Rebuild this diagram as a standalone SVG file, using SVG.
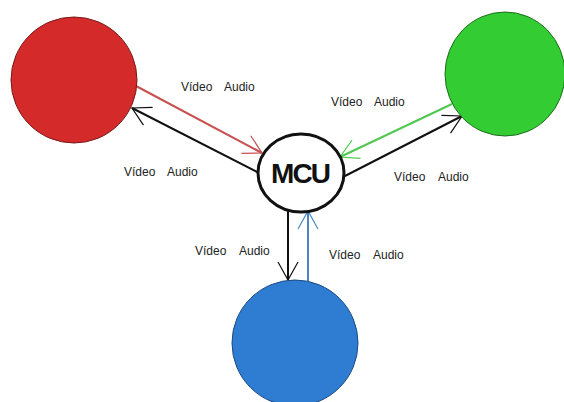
<svg xmlns="http://www.w3.org/2000/svg" width="564" height="402" viewBox="0 0 564 402">
<style>
.lbl{font-family:"Liberation Sans",Arial,sans-serif;font-size:12px;fill:#222}
.mcu{font-family:"Liberation Sans",Arial,sans-serif;font-size:28px;font-weight:bold;fill:#111}
.ln{fill:none;stroke-width:2}
.ah{fill:none;stroke-width:1.2}
</style>
<defs>
<marker id="mk" markerUnits="userSpaceOnUse" markerWidth="40" markerHeight="40" refX="0" refY="0" orient="auto" overflow="visible"><path class="ah" d="M-18,-10 L0,0 L-18,10" stroke="#111"/></marker>
<marker id="mr" markerUnits="userSpaceOnUse" markerWidth="40" markerHeight="40" refX="0" refY="0" orient="auto" overflow="visible"><path class="ah" d="M-18,-10 L0,0 L-18,10" stroke="#c85050"/></marker>
<marker id="mg" markerUnits="userSpaceOnUse" markerWidth="40" markerHeight="40" refX="0" refY="0" orient="auto" overflow="visible"><path class="ah" d="M-18,-10 L0,0 L-18,10" stroke="#50c850"/></marker>
<marker id="mb" markerUnits="userSpaceOnUse" markerWidth="40" markerHeight="40" refX="0" refY="0" orient="auto" overflow="visible"><path class="ah" d="M-18,-10 L0,0 L-18,10" stroke="#4a86c0"/></marker>
</defs>
<rect width="564" height="402" fill="#fff"/>
<g id="connectors">
<line class="ln" x1="136" y1="86" x2="262" y2="153" stroke="#c85050" marker-end="url(#mr)"/>
<line class="ln" x1="259" y1="173" x2="132" y2="108" stroke="#111" marker-end="url(#mk)"/>
<line class="ln" x1="452" y1="104" x2="340" y2="157" stroke="#50c850" marker-end="url(#mg)"/>
<line class="ln" x1="343" y1="177" x2="462" y2="116" stroke="#111" marker-end="url(#mk)"/>
<line class="ln" x1="288" y1="211" x2="288" y2="280" stroke="#111" marker-end="url(#mk)"/>
<line class="ln" x1="308" y1="281" x2="308" y2="211" stroke="#4a86c0" marker-end="url(#mb)"/>
</g>
<g id="red"><ellipse cx="74" cy="80" rx="63" ry="63" fill="#d42a2a" stroke="#7a1a1a" stroke-width="1"/></g>
<g id="green"><ellipse cx="505" cy="74" rx="60" ry="62" fill="#33cc33" stroke="#1d6e1d" stroke-width="1"/></g>
<g id="blue"><ellipse cx="295" cy="343" rx="63" ry="63" fill="#2e7dd3" stroke="#1a4a80" stroke-width="1"/></g>
<g id="mcu"><ellipse cx="301" cy="173" rx="43" ry="39" fill="#fff" stroke="#111" stroke-width="3"/><text class="mcu" x="301" y="183" text-anchor="middle" textLength="60">MCU</text></g>
<g id="labels">
<text class="lbl" y="91"><tspan x="181">Vídeo</tspan><tspan x="224">Audio</tspan></text>
<text class="lbl" y="176"><tspan x="124">Vídeo</tspan><tspan x="167">Audio</tspan></text>
<text class="lbl" y="106"><tspan x="331">Vídeo</tspan><tspan x="374">Audio</tspan></text>
<text class="lbl" y="181"><tspan x="394">Vídeo</tspan><tspan x="438">Audio</tspan></text>
<text class="lbl" y="255"><tspan x="195">Vídeo</tspan><tspan x="239">Audio</tspan></text>
<text class="lbl" y="259"><tspan x="329">Vídeo</tspan><tspan x="373">Audio</tspan></text>
</g>
</svg>
